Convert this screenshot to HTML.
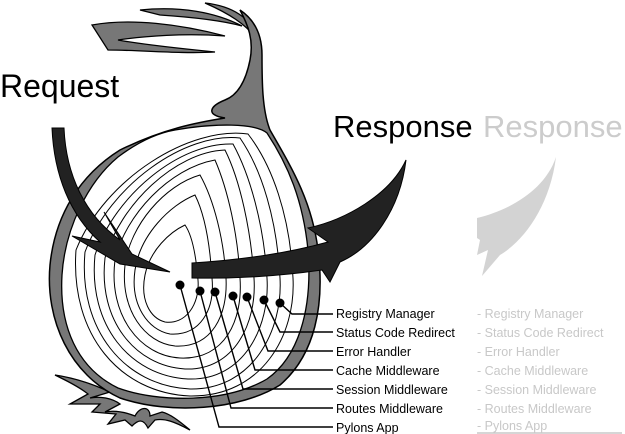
<!DOCTYPE html>
<html><head><meta charset="utf-8"><style>
html,body{margin:0;padding:0;background:#fff;}
svg{display:block;}
text{font-family:"Liberation Sans",sans-serif;}
</style></head><body>
<svg width="625" height="434" viewBox="0 0 625 434" xmlns="http://www.w3.org/2000/svg">
<!-- roots -->
<path d="M55,375 C75,378 95,385 110,392 L90,398 C100,396 112,398 120,404 L105,412 C115,410 125,412 135,416 C140,406 150,406 150,416 L162,412 C170,414 178,420 190,430 C175,422 165,418 155,420 L148,428 C143,418 138,420 132,426 L125,420 L108,424 L116,414 L92,412 L100,404 L70,404 L88,394 C78,386 65,380 55,375Z" fill="#777" stroke="#000" stroke-width="1.3"/>
<!-- stem leaves -->
<path d="M92,25 C130,18 180,24 225,36 C185,33 145,36 118,40 C140,44 175,48 215,52 C180,54 140,50 108,50 Z" fill="#777" stroke="#000" stroke-width="1.3"/>
<path d="M140,10 C180,6 215,12 242,26 C220,20 190,17 160,15 Z" fill="#777" stroke="#000" stroke-width="1.3"/>
<path d="M205,3 C232,6 252,18 256,38 C245,24 230,14 205,3Z" fill="#777" stroke="#000" stroke-width="1.3"/>
<!-- body + stem -->
<path d="M225,118 C200,122 165,128 120,150 C80,175 55,215 50,265 C45,320 70,375 120,398 C170,415 240,410 280,385 C315,355 325,305 318,250 C312,200 290,165 270,130 C262,110 262,80 262,55 C262,35 255,20 240,10 C248,25 254,40 250,60 C246,80 238,95 225,100 C210,106 205,115 225,118Z" fill="#777" stroke="#000" stroke-width="1.5"/>
<!-- white interior -->
<path d="M175,130 C215,123 255,123 267,133 C288,165 303,200 308,250 C313,312 297,358 267,379 C226,403 160,403 118,388 C77,368 59,326 62,275 C65,228 88,182 118,157 C138,142 158,133 175,130Z" fill="#fff" stroke="#000" stroke-width="1.3"/>
<!-- rings -->
<g fill="none" stroke="#000" stroke-width="1">
<path d="M185,225 C170,232 150,250 145,275 C140,300 150,318 165,322 C185,325 200,305 198,280 C196,255 192,235 185,225Z"/>
<path d="M195,195 C170,205 140,235 135,270 C130,305 148,330 170,334 C200,336 215,310 212,278 C210,245 205,215 195,195Z"/>
<path d="M200,175 C165,185 130,225 125,265 C120,310 145,343 175,346 C212,348 228,315 226,278 C224,240 214,200 200,175Z"/>
<path d="M215,160 C170,168 125,215 115,260 C108,315 140,356 180,358 C225,360 243,320 240,278 C238,235 228,190 215,160Z"/>
<path d="M225,150 C175,152 120,205 105,258 C98,320 135,366 185,369 C235,371 257,322 254,278 C251,230 240,180 225,150Z"/>
<path d="M233,144 C180,142 115,195 95,255 C88,325 130,376 188,379 C245,381 270,325 267,278 C264,225 250,175 233,144Z"/>
<path d="M240,138 C185,132 110,185 85,252 C78,330 125,386 190,389 C253,390 283,330 280,278 C277,220 262,170 240,138Z"/>
<path d="M248,134 C190,126 105,178 76,250 C70,335 120,393 190,396 C262,397 296,335 293,278 C290,215 272,165 248,134Z"/>
</g>
<!-- request arrow -->
<path d="M52,128 L64,128 C66,175 85,215 120,240 L104,212 L132,254 L170,272 L120,264 L72,236 L100,242 C70,215 54,175 52,128Z" fill="#222" stroke="#000" stroke-width="1"/>
<!-- response arrow -->
<path d="M192,263 C240,260 285,254 328,242 L308,228 C345,220 390,195 406,160 C400,210 372,248 340,262 L330,282 L322,270 C280,276 240,279 192,278Z" fill="#222" stroke="#000" stroke-width="1"/>
<!-- gray response arrow -->
<path d="M477,218 C510,210 545,190 556,157 C550,205 525,240 500,255 L482,276 L488,250 L477,255 L480,240 L477,238Z" fill="#d3d3d3"/>
<!-- text -->
<text x="0" y="97" font-size="32" fill="#000">Request</text>
<text x="333" y="137" font-size="31" fill="#000">Response</text>
<text x="483" y="137" font-size="31" fill="#ccc">Response</text>
<!-- connectors -->
<g fill="none" stroke="#000" stroke-width="1.4">
<polyline points="280,303 292,314 333,314"/>
<polyline points="264,300 280,332 333,332"/>
<polyline points="247,297 268,351 333,351"/>
<polyline points="233,296 255,370 333,370"/>
<polyline points="215,292 243,389 333,389"/>
<polyline points="200,291 231,408 333,408"/>
<polyline points="180,285 219,427 333,427"/>
</g>
<g fill="#000">
<circle cx="180" cy="285" r="4.5"/><circle cx="200" cy="291" r="4.5"/><circle cx="215" cy="292" r="4.5"/>
<circle cx="233" cy="296" r="4.5"/><circle cx="247" cy="297" r="4.5"/><circle cx="264" cy="300" r="4.5"/><circle cx="280" cy="303" r="4.5"/>
</g>
<g font-size="12.5" fill="#000">
<text x="336" y="318">Registry Manager</text>
<text x="336" y="337">Status Code Redirect</text>
<text x="336" y="356">Error Handler</text>
<text x="336" y="375">Cache Middleware</text>
<text x="336" y="394">Session Middleware</text>
<text x="336" y="413">Routes Middleware</text>
<text x="336" y="432">Pylons App</text>
</g>
<g font-size="12.5" fill="#c8c8c8">
<text x="477" y="318">- Registry Manager</text>
<text x="477" y="337">- Status Code Redirect</text>
<text x="477" y="356">- Error Handler</text>
<text x="477" y="375">- Cache Middleware</text>
<text x="477" y="394">- Session Middleware</text>
<text x="477" y="413">- Routes Middleware</text>
<text x="477" y="430">- Pylons App</text>
</g>
<line x1="477" y1="433" x2="622" y2="433" stroke="#c8c8c8" stroke-width="1.5"/>
</svg>
</body></html>
